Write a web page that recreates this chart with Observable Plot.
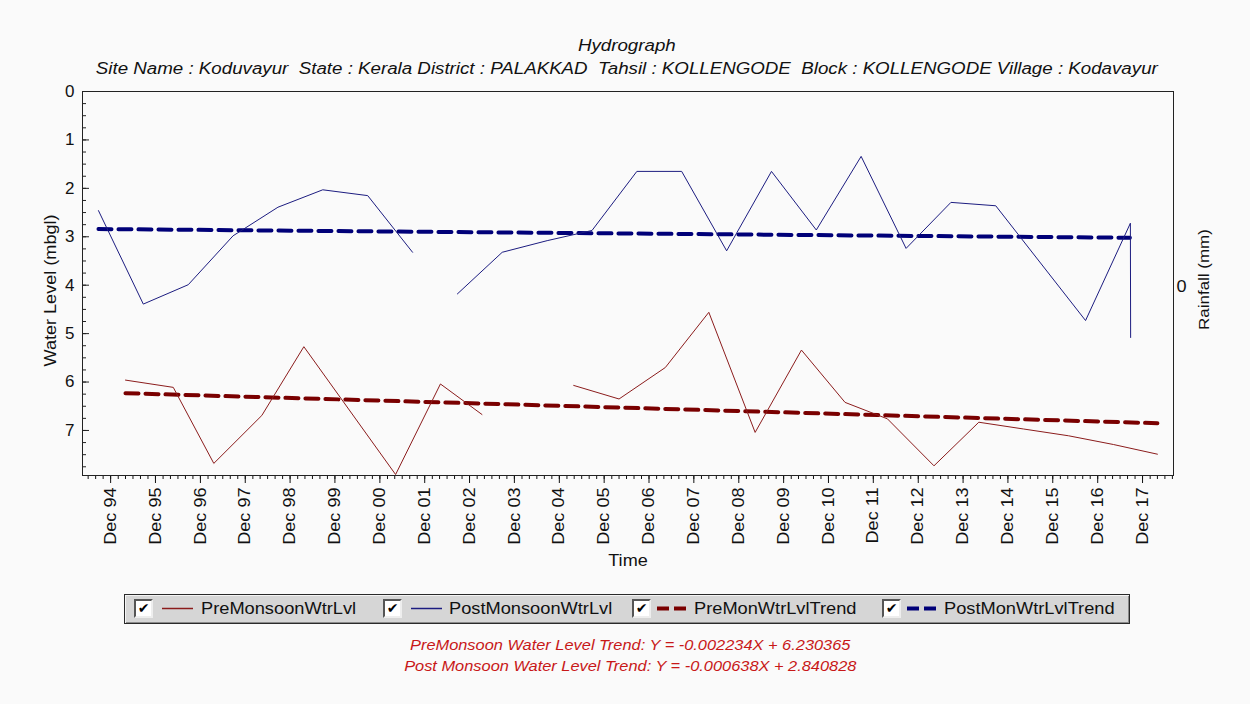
<!DOCTYPE html>
<html><head><meta charset="utf-8">
<script src="https://cdn.jsdelivr.net/npm/d3@7"></script>
<script src="https://cdn.jsdelivr.net/npm/@observablehq/plot@0.6"></script>
<style>
body{margin:0;background:#fafafa;font-family:"Liberation Sans",Arial,sans-serif;color:#111}
#wrap{position:relative;width:1250px;height:704px;background:#fafafa;overflow:hidden}
#chart{position:absolute;left:0;top:0}
.title{position:absolute;left:0;width:1254px;text-align:center;font-style:italic;font-size:16px;white-space:pre;color:#111}
.title span,.cap span{display:inline-block;transform:scaleX(1.17);transform-origin:center}
#legend{position:absolute;left:124px;top:594px;width:1004px;height:28px;background:#d6d6d6;border:1px solid #2a2a2a;box-shadow:inset 1px 1px #f4f4f4,inset -1px -1px #8a8a8a}
.item{position:absolute;top:0;height:28px}
.cb{position:absolute;top:4px;width:19px;height:19px;background:#fff;border:2px solid;border-color:#555 #eee #eee #555;box-sizing:border-box;font:bold 14px "DejaVu Sans",sans-serif;line-height:15px;text-align:center;color:#000}
.sample{position:absolute;top:0}
.ltxt{position:absolute;top:5px;font-size:16px;line-height:18px;white-space:nowrap;transform:scaleX(1.14);transform-origin:left}
.cap{position:absolute;left:0;width:1260px;text-align:center;font-style:italic;font-size:14px;color:#c81818;white-space:pre}
</style></head><body>
<div id="wrap">
  <div class="title" style="top:37px"><span>Hydrograph</span></div>
  <div class="title" style="top:60px"><span>Site Name : Koduvayur  State : Kerala District : PALAKKAD  Tahsil : KOLLENGODE  Block : KOLLENGODE Village : Kodavayur</span></div>
  <div id="chart"></div>
  <div id="legend"></div>
  <div class="cap" style="top:637px"><span id="cap1"></span></div>
  <div class="cap" style="top:658px"><span id="cap2"></span></div>
</div>
<script>
// ---- data ----
const postDates = ["1994-08-24","1995-08-24","1996-08-24","1997-08-24","1998-08-24","1999-08-24","2000-08-24","2001-08-24",
  "2002-08-24","2003-08-24","2004-08-24","2005-08-24","2006-08-24","2007-08-24","2008-08-24","2009-08-24","2010-08-24",
  "2011-08-24","2012-08-24","2013-08-24","2014-08-24","2016-08-24","2017-08-24","2017-08-26"];
const postLevels = [2.46,4.39,3.99,2.98,2.39,2.03,2.15,3.32,
  4.18,3.32,3.08,2.87,1.65,1.65,3.29,1.65,2.86,
  1.34,3.24,2.29,2.36,4.73,2.72,5.08];
const postSegment = [1,1,1,1,1,1,1,1, 2,2,2,2,2,2,2,2,2, 2,2,2,2,2,2,2];

const preDates = ["1995-04-01","1996-04-24","1997-03-20","1998-04-15","1999-03-23","2001-04-08","2002-04-08","2003-03-12",
  "2005-03-28","2006-04-01","2007-04-13","2008-04-01","2009-04-13","2010-04-25","2011-04-15","2012-03-25","2013-04-08",
  "2014-04-08","2015-04-08","2016-04-08","2017-04-08","2018-04-01"];
const preLevels = [5.96,6.11,7.68,6.69,5.27,7.91,6.04,6.67,
  6.07,6.35,5.70,4.56,7.04,5.34,6.42,6.76,7.73,
  6.83,6.97,7.11,7.29,7.49];
const preSegment = [1,1,1,1,1,1,1,1, 2,2,2,2,2,2,2,2,2, 2,2,2,2,2];

const preTrendDates = ["1995-04-01","2018-04-01"];
const preTrendLevels = [6.23, 6.85];
const postTrendDates = ["1994-08-24","2017-08-20"];
const postTrendLevels = [2.84, 3.02];

const tickYears = [1994,1995,1996,1997,1998,1999,2000,2001,2002,2003,2004,2005,2006,2007,2008,2009,2010,2011,2012,2013,2014,2015,2016,2017];
const tickLabels = ["Dec 94","Dec 95","Dec 96","Dec 97","Dec 98","Dec 99","Dec 00","Dec 01","Dec 02","Dec 03","Dec 04","Dec 05",
  "Dec 06","Dec 07","Dec 08","Dec 09","Dec 10","Dec 11","Dec 12","Dec 13","Dec 14","Dec 15","Dec 16","Dec 17"];
const yTicks = [0,1,2,3,4,5,6,7];

const legendLabels = ["PreMonsoonWtrLvl","PostMonsoonWtrLvl","PreMonWtrLvlTrend","PostMonWtrLvlTrend"];
const caption1 = "PreMonsoon Water Level Trend: Y = -0.002234X + 6.230365";
const caption2 = "Post Monsoon Water Level Trend: Y = -0.000638X + 2.840828";

// ---- styles ----
const RED = "#8b1c1c", BLUE = "#1c1c80", DRED = "#7a0000", DBLUE = "#000078";

const parse = d3.utcParse("%Y-%m-%d");
const post = postDates.map((d,i)=>({date:parse(d), level:postLevels[i], seg:postSegment[i]}));
const pre = preDates.map((d,i)=>({date:parse(d), level:preLevels[i], seg:preSegment[i]}));
const preTrend = preTrendDates.map((d,i)=>({date:parse(d), level:preTrendLevels[i]}));
const postTrend = postTrendDates.map((d,i)=>({date:parse(d), level:postTrendLevels[i]}));

const xDomain = [parse("1994-04-16"), parse("2018-08-10")];
const majorTicks = tickYears.map(y => new Date(Date.UTC(y, 11, 1)));
const labelOf = new Map(majorTicks.map((d,i)=>[+d, tickLabels[i]]));
const minorTicks = d3.utcMonth.range(xDomain[0], xDomain[1]).filter(d => d.getUTCMonth() % 2 === 1);
const minorY = d3.range(0, 7.93, 0.25);

const W = 1250, H = 590, ML = 82, MR = 77, MT = 91, MB = 115;
const innerW = W - ML - MR;

const chart = Plot.plot({
  width: W, height: H,
  marginTop: MT, marginLeft: ML, marginRight: MR, marginBottom: MB,
  style: {background: "transparent", fontFamily: "Liberation Sans, Arial, sans-serif", fontSize: "16px", color: "#111"},
  x: {type: "utc", domain: xDomain},
  y: {domain: [0, 7.93], reverse: true},
  marks: [
    Plot.axisX(minorTicks, {tickSize: 4, fill: "none", label: null}),
    Plot.axisX(majorTicks, {tickSize: 8, tickPadding: 4, tickRotate: -90, tickFormat: d => labelOf.get(+d), label: null, fontSize: 16}),
    Plot.axisY(yTicks, {tickSize: 0, tickPadding: 8, tickFormat: d => String(d), label: null, fontSize: 17}),
    Plot.tickY(minorY, {y: d => d, stroke: "#222", insetRight: innerW - 4}),
    Plot.tickY(yTicks, {y: d => d, stroke: "#222", insetRight: innerW - 7}),
    Plot.frame({stroke: "#222"}),
    Plot.line(postTrend, {x: "date", y: "level", stroke: DBLUE, strokeWidth: 4, strokeDasharray: "13,7"}),
    Plot.line(preTrend, {x: "date", y: "level", stroke: DRED, strokeWidth: 4, strokeDasharray: "13,7"}),
    Plot.line(post, {x: "date", y: "level", z: "seg", stroke: BLUE, strokeWidth: 1}),
    Plot.line(pre, {x: "date", y: "level", z: "seg", stroke: RED, strokeWidth: 1}),
    Plot.text(["Water Level (mbgl)"], {frameAnchor: "left", textAnchor: "middle", dx: -32, dy: 7, rotate: -90, fontSize: 16, text: d => d}),
    Plot.text(["0"], {frameAnchor: "right", textAnchor: "start", dx: 3, dy: 3, fontSize: 16, text: d => d}),
    Plot.text(["Rainfall (mm)"], {frameAnchor: "right", textAnchor: "middle", dx: 31, dy: -4, rotate: -90, fontSize: 15, text: d => d}),
    Plot.text(["Time"], {frameAnchor: "bottom", dy: 90, fontSize: 16, text: d => d})
  ]
});
document.getElementById("chart").appendChild(chart);

// horizontally widen SVG texts to match the reference's stretched glyphs
d3.select(chart).selectAll("text").each(function() {
  const g = this.closest("g");
  if (g && g.getAttribute("aria-label") === "y-axis tick label") return;
  const w = this.getComputedTextLength();
  if (w > 0) { this.setAttribute("textLength", w * 1.13); this.setAttribute("lengthAdjust", "spacingAndGlyphs"); }
});

// ---- legend ----
const legendLayout = [
  {cb: 9, sample: 37, text: 76, kind: "solid", color: RED},
  {cb: 258, sample: 286, text: 324, kind: "solid", color: BLUE},
  {cb: 507, sample: 531, text: 569, kind: "dash", color: DRED},
  {cb: 757, sample: 781, text: 819, kind: "dash", color: DBLUE}
];
const leg = d3.select("#legend");
legendLabels.forEach((lab, i) => {
  const L = legendLayout[i];
  const it = leg.append("div").attr("class","item").style("left","0px");
  it.append("div").attr("class","cb").style("left", L.cb+"px").text("✔");
  const sw = 31;
  const s = it.append("svg").attr("class","sample").style("left", L.sample+"px").attr("width", sw+2).attr("height", 28);
  if (L.kind === "solid") s.append("line").attr("x1",0).attr("x2",sw).attr("y1",13.5).attr("y2",13.5).attr("stroke",L.color).attr("stroke-width",1.5);
  else s.append("line").attr("x1",1).attr("x2",sw).attr("y1",13.5).attr("y2",13.5).attr("stroke",L.color).attr("stroke-width",4).attr("stroke-dasharray","12,5");
  it.append("div").attr("class","ltxt").style("left", L.text+"px").text(lab);
});
document.getElementById("cap1").textContent = caption1;
document.getElementById("cap2").textContent = caption2;
</script>
</body></html>
